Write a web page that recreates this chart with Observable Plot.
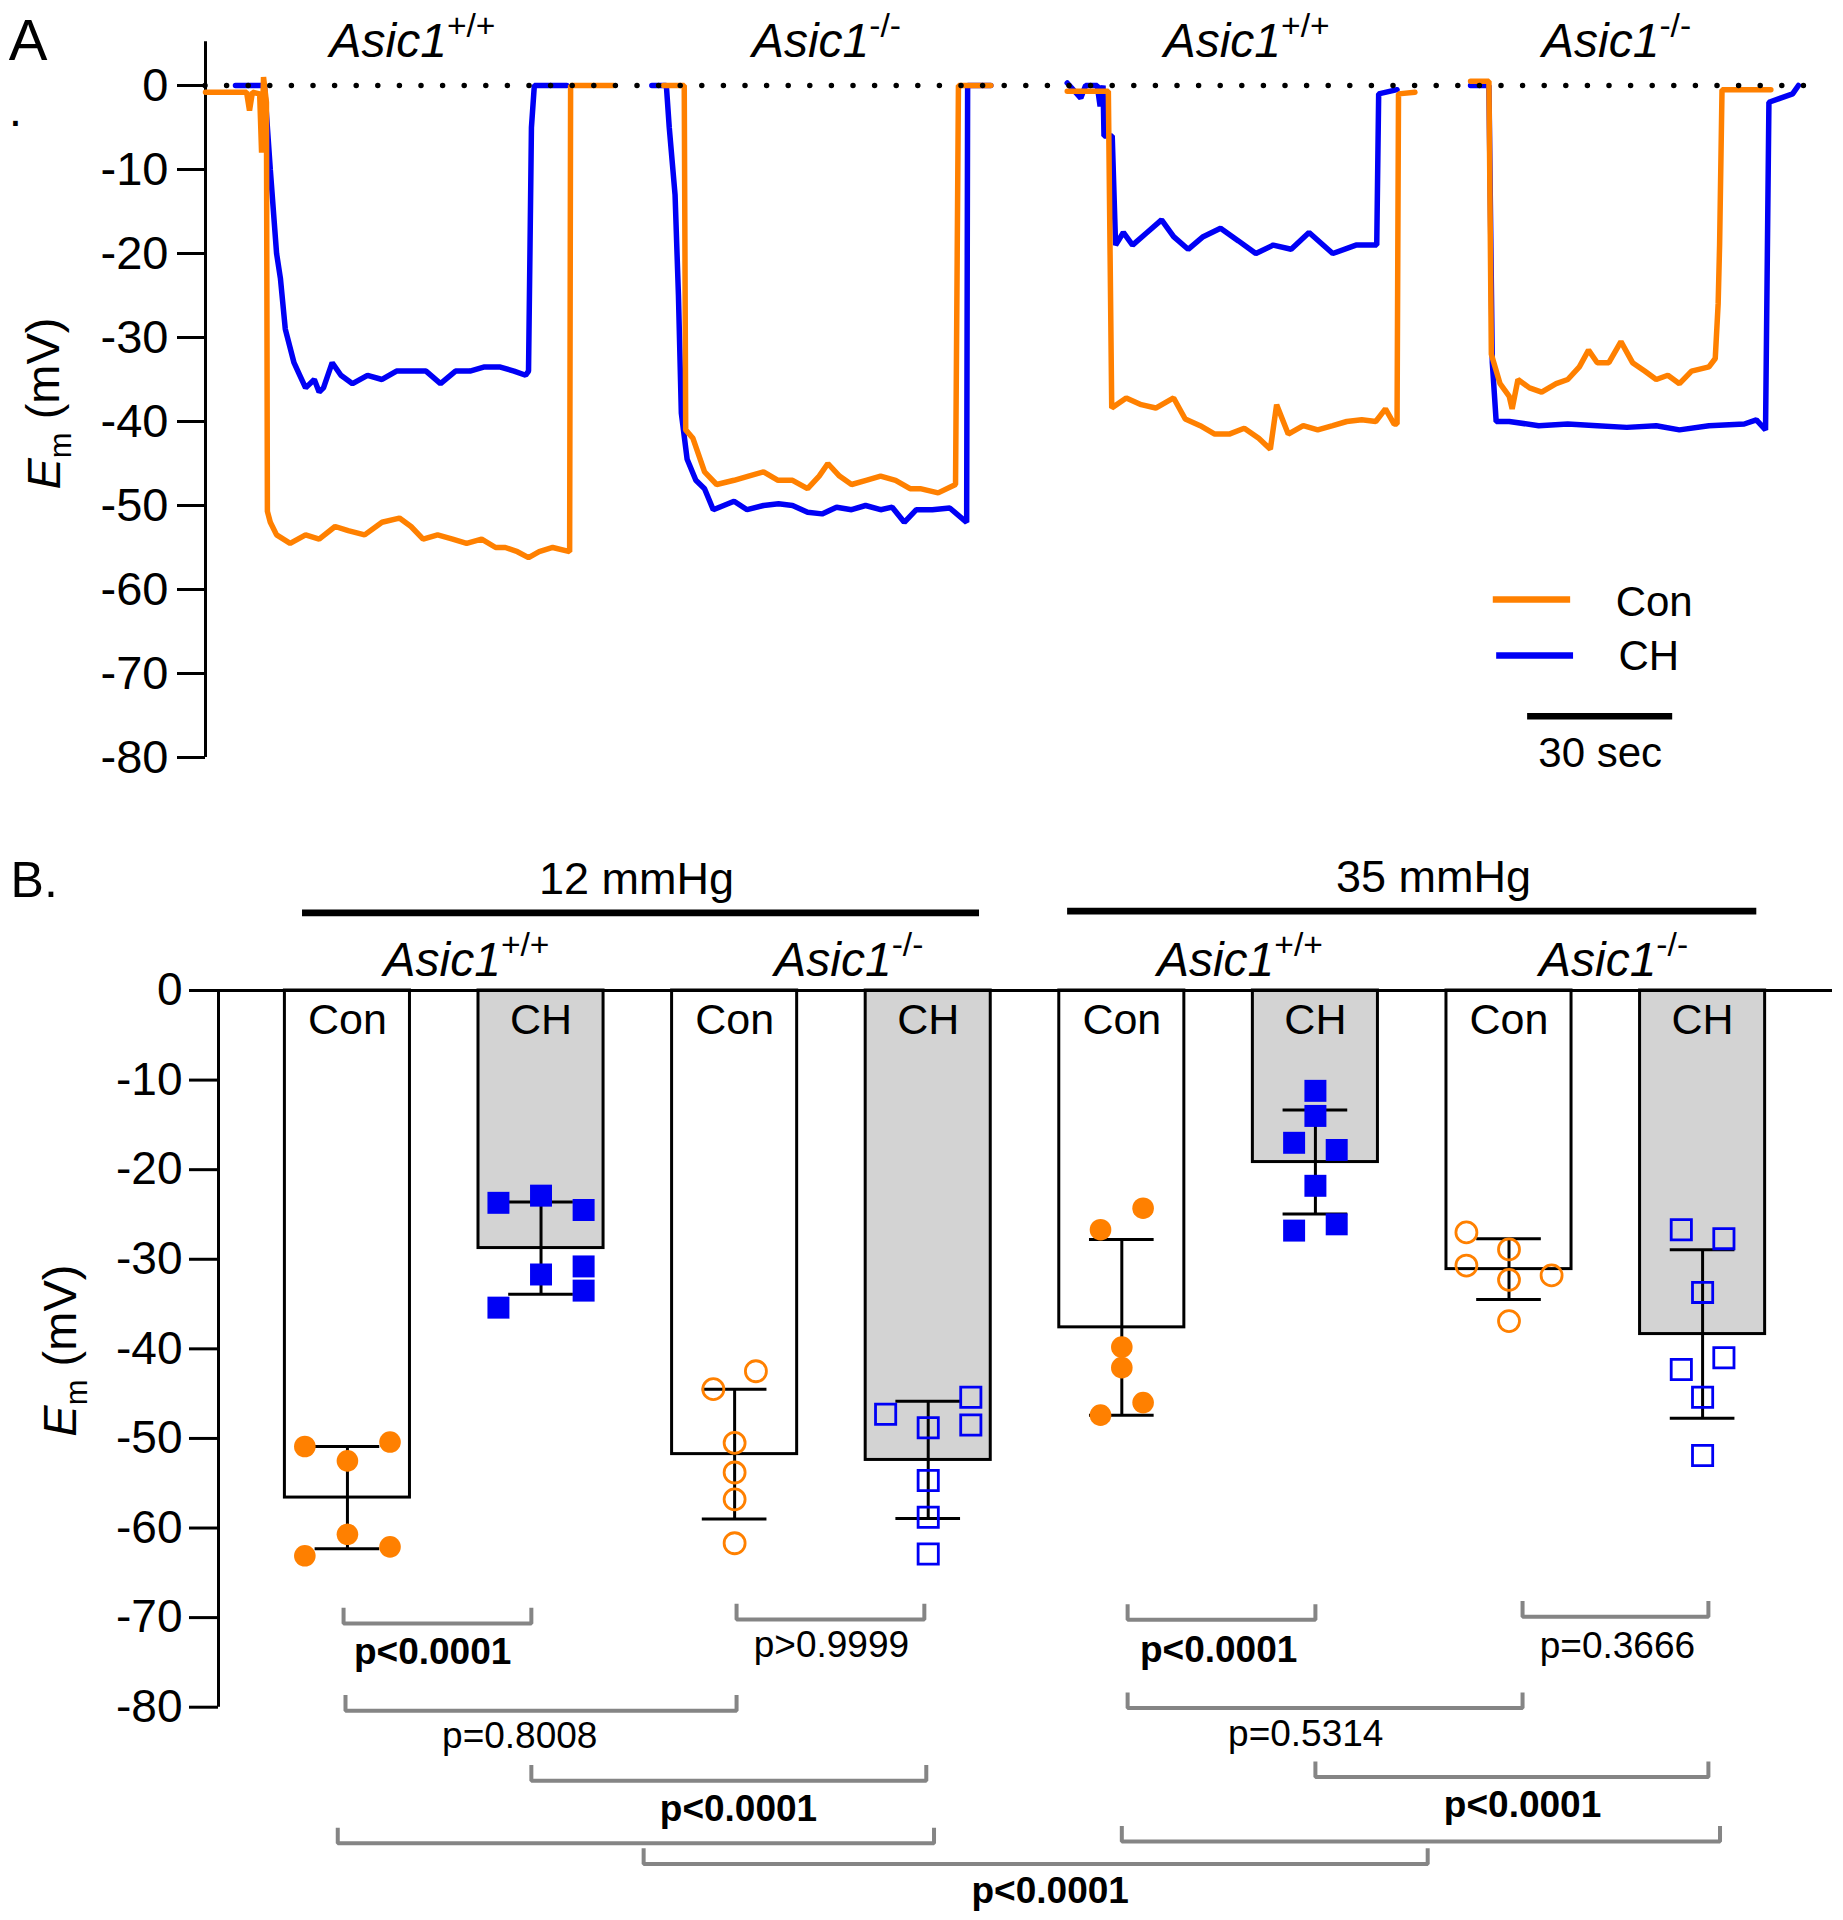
<!DOCTYPE html>
<html><head><meta charset="utf-8">
<script src="https://cdn.jsdelivr.net/npm/d3@7"></script>
<script src="https://cdn.jsdelivr.net/npm/@observablehq/plot@0.6"></script>
<style>html,body{margin:0;padding:0;background:#fff;overflow:hidden;} svg{display:block;max-width:none !important;}</style>
</head><body>
<div id="chart"></div>
<script>
// ---------------- DATA ----------------
// Panel A: membrane potential traces, [time (s), Em (mV)]
const wtCon12 = [[0,-0.8],[8.5,-0.8],[9.1,-3],[9.7,-0.8],[11.2,-1],[11.6,-8],[12,1],[12.6,-2],[12.8,-50.7],[13.4,-52],[14.7,-53.5],[17.5,-54.5],[20.7,-53.5],[23.5,-54],[26.8,-52.5],[29.5,-53],[32.9,-53.5],[36.5,-52],[40.1,-51.5],[42.5,-52.5],[45,-54],[48,-53.5],[51.1,-54],[54,-54.5],[57.1,-54],[60,-55],[62,-55],[64.5,-55.5],[66.8,-56.2],[69,-55.5],[71.8,-55],[75.3,-55.5],[75.5,0],[84.4,0]];
const wtCH12 = [[6.2,0],[12.2,0],[13.4,-10],[14.7,-20],[15.5,-23],[16.5,-29],[18.3,-33],[19.5,-34.5],[20.7,-36],[22.5,-35],[23.5,-36.5],[24.4,-36],[26.2,-33],[28,-34.5],[30.4,-35.5],[33.5,-34.5],[36.5,-35],[39.5,-34],[42.6,-34],[45.6,-34],[48.6,-35.5],[51.7,-34],[54.7,-34],[57.7,-33.5],[60.8,-33.5],[63.8,-34],[66.2,-34.5],[66.8,-34],[67.4,-5],[68,0],[74.7,0]];
const koCon12 = [[94.7,0],[99,0],[99.3,-41],[100.8,-42],[102,-44],[103.2,-46],[105.7,-47.5],[109.3,-47],[112.3,-46.5],[115.4,-46],[118.4,-47],[121.4,-47],[124.5,-48],[126.9,-46.5],[128.7,-45],[131.1,-46.5],[133.6,-47.5],[136.6,-47],[139.6,-46.5],[142.7,-47],[145.7,-48],[147.8,-48],[151.5,-48.5],[155.1,-47.5],[155.7,0],[162.4,0]];
const koCH12 = [[92.3,0],[95.3,0],[95.9,-5],[97.1,-13],[97.8,-25],[98.4,-39],[99.6,-44.5],[101.4,-47],[103.2,-48],[105,-50.5],[109.3,-49.5],[112,-50.5],[115.4,-50],[118.5,-49.8],[121.4,-50],[124.5,-50.8],[127.5,-51],[130.5,-50.2],[133.6,-50.5],[136.5,-50],[139.6,-50.5],[142,-50.2],[144.5,-52],[147,-50.5],[150.3,-50.5],[153.9,-50.3],[157.4,-52],[157.6,0],[162.4,0]];
const wtCon35 = [[178.2,-0.7],[186.7,-0.7],[187.4,-38.4],[190.4,-37.2],[193.5,-38],[196.5,-38.4],[200.2,-37.2],[202.6,-39.7],[205.7,-40.5],[208.7,-41.5],[211.7,-41.5],[214.8,-40.8],[217.8,-42],[220.2,-43.3],[221.5,-38],[223.9,-41.5],[227,-40.5],[230,-41],[233.1,-40.5],[236,-40],[239.1,-39.8],[242,-40],[244,-38.5],[245.8,-40.3],[246.4,-40.3],[246.7,-1],[250.1,-0.8]];
const wtCH35 = [[178.2,0.3],[181,-1.5],[182,0],[184.4,0],[185,-2.5],[185.6,0],[185.8,-6],[187.5,-6],[188.2,-19],[189.8,-17.5],[191.7,-19],[194.7,-17.5],[197.7,-16],[200.2,-18],[203.2,-19.5],[206.3,-18],[209.9,-17],[213.6,-18.5],[217.2,-20],[220.8,-19],[224.5,-19.5],[228.2,-17.5],[233.1,-20],[237.9,-19],[242.2,-19],[242.6,-1],[246.4,-0.5]];
const koCon35 = [[261.6,0.5],[265.4,0.5],[265.9,-32],[267.7,-35.5],[269.6,-37],[270.2,-38.5],[271.4,-35],[273.8,-36],[276.3,-36.5],[279.3,-35.5],[281.7,-35],[284.1,-33.5],[286,-31.5],[287.8,-33],[290.2,-33],[292.7,-30.5],[295.1,-33],[297.6,-34],[300,-35],[302.4,-34.5],[304.8,-35.5],[307.3,-34],[310.9,-33.5],[312.2,-32.5],[312.8,-26],[313.1,-19],[313.6,-0.5],[323.7,-0.5]];
const koCH35 = [[261.6,0],[265.4,0],[266.1,-33],[266.9,-40],[269.6,-40],[275.7,-40.5],[281.7,-40.3],[287.8,-40.5],[293.9,-40.7],[300,-40.5],[304.8,-41],[310.9,-40.5],[318.2,-40.3],[320.7,-39.8],[322.6,-41],[323.3,-2],[325.7,-1.5],[328.2,-1],[329.4,0]];
const recordingGenotype = ["@wt","@ko","@wt","@ko"];
const recordingLabelT = [42.8, 128.4, 215.3, 291.8];
const ticksA = [0,-10,-20,-30,-40,-50,-60,-70,-80];
const scaleBarSeconds = 30;

// Panel B: group means, SD and individual cells
const barCondition = ["Con","CH","Con","CH","Con","CH","Con","CH"];
const barGenotype = ["wt","wt","ko","ko","wt","wt","ko","ko"];
const barMean = [-56.6,-28.75,-51.75,-52.4,-37.6,-19.15,-31.1,-38.35];
const barSD = [5.7,5.15,7.25,6.55,9.8,5.8,3.4,9.4];
const cellValues = [
  [-50.9,-52.5,-50.4,-63.1,-60.7,-62.1],
  [-23.7,-22.9,-24.5,-31.7,-30.8,-33.5,-35.4],
  [-44.5,-42.5,-50.5,-53.8,-56.8,-61.7],
  [-47.3,-48.8,-54.7,-58.8,-62.9,-45.4,-48.5],
  [-26.7,-24.3,-39.8,-42.1,-46.0,-47.4],
  [-11.2,-14.0,-17.0,-17.8,-21.8,-26.8,-26.1],
  [-27.0,-28.9,-30.7,-32.3,-31.8,-36.9],
  [-26.7,-27.7,-33.7,-41.0,-42.3,-45.4,-51.9]
];
const cellColumns = [
  [-2,0,2,-2,0,2],
  [-2,0,2,0,2,2,-2],
  [-1,1,0,0,0,0],
  [-2,0,0,0,0,2,2],
  [-1,1,0,0,1,-1],
  [0,0,-1,1,0,-1,1],
  [-2,0,-2,0,2,0],
  [-1,1,0,1,-1,0,0]
];
const genotypeLabels = ["@wt","@ko","@wt","@ko"];
const genotypeLabelX = [0.615,2.59,4.61,6.54];
const pressureLabels = ["12 mmHg","35 mmHg"];
const pressureLabelX = [1.493,5.61];
const pressureFrom = [-0.232,3.72];
const pressureTo = [3.265,7.28];
const ticksB = [0,-10,-20,-30,-40,-50,-60,-70,-80];
// comparisons (bracket ends in bar-position units)
const cmpFrom = [-0.02,2.01,4.03,6.07,-0.01,4.03,0.95,5.0,-0.05,4.0,1.53];
const cmpTo = [0.95,2.98,5.0,7.03,2.01,6.07,2.99,7.03,3.03,7.09,5.58];
const cmpLevel = [-70.65,-70.2,-70.25,-69.9,-80.4,-80.1,-88.2,-87.8,-95.2,-95.0,-97.5];
const cmpP = ["p<0.0001","p>0.9999","p<0.0001","p=0.3666","p=0.8008","p=0.5314","p<0.0001","p<0.0001","","","p<0.0001"];
const cmpLabelX = [0.44,2.5,4.5,6.56,0.89,4.95,2.02,6.07,null,null,3.63];
const cmpLabelY = [-75.15,-74.4,-74.97,-74.5,-84.5,-84.3,-92.65,-92.3,null,null,-101.8];

// ---------------- STYLE ----------------
const ORANGE = "#FF8000", BLUE = "#0000F5", BARGRAY = "#D3D3D3", BRACKET = "#858585";
const FONT = "'Liberation Sans', Arial, Helvetica, sans-serif";

const rich = {
  "@wt": [["Asic1","i"],["+/+","sup"]],
  "@ko": [["Asic1","i"],["-/-","sup"]],
  "@em": [["E","i"],["m","sub"],[" (mV)",""]]
};
function richify(svg){
  svg.querySelectorAll("text").forEach(el => {
    const spec = rich[el.textContent];
    if (!spec) return;
    el.textContent = "";
    let prevSub = false;
    for (const [t, kind] of spec) {
      const ts = document.createElementNS("http://www.w3.org/2000/svg","tspan");
      ts.textContent = t;
      if (kind === "i") ts.setAttribute("font-style","italic");
      if (kind === "sup") { ts.setAttribute("font-size","0.7em"); ts.setAttribute("dy","-0.58em"); }
      if (kind === "sub") { ts.setAttribute("font-size","0.66em"); ts.setAttribute("dy","0.36em"); }
      else if (prevSub) ts.setAttribute("dy","-0.24em");
      prevSub = kind === "sub";
      el.appendChild(ts);
    }
  });
}

// ---------------- PANEL A ----------------
const traceDefs = [
  {cond:"CH", seg:"wt12", pts:wtCH12}, {cond:"CH", seg:"ko12", pts:koCH12},
  {cond:"CH", seg:"wt35", pts:wtCH35}, {cond:"CH", seg:"ko35", pts:koCH35},
  {cond:"Con", seg:"wt12", pts:wtCon12}, {cond:"Con", seg:"ko12", pts:koCon12},
  {cond:"Con", seg:"wt35", pts:wtCon35}, {cond:"Con", seg:"ko35", pts:koCon35}
];
const traceRows = traceDefs.flatMap(d => d.pts.map(([t,v]) => ({cond:d.cond, seg:d.seg, t, v})));
const recLabels = recordingGenotype.map((k,i) => ({key:k, t:recordingLabelT[i]}));

const plotA = Plot.plot({
  width: 1843, height: 810,
  marginLeft: 205, marginRight: 18, marginTop: 41.3, marginBottom: 53,
  x: {domain: [0, 335], axis: null},
  y: {domain: [-80, 5.2]},
  style: {fontFamily: FONT, background: "white"},
  marks: [
    Plot.ruleX([0], {strokeWidth: 3}),
    Plot.axisY({ticks: ticksA, tickSize: 28, tickPadding: 9, fontSize: 47, tickFormat: d => String(d), label: null, strokeWidth: 3}),
    Plot.line(traceRows.filter(d => d.cond === "CH"), {x: "t", y: "v", z: "seg", stroke: BLUE, strokeWidth: 5.5, strokeLinejoin: "miter"}),
    Plot.line(traceRows.filter(d => d.cond === "Con"), {x: "t", y: "v", z: "seg", stroke: ORANGE, strokeWidth: 5.5, strokeLinejoin: "miter"}),
    Plot.ruleY([0], {x1: 0, x2: 335, strokeDasharray: "0 21.6", strokeLinecap: "round", strokeWidth: 5.5}),
    Plot.text(recLabels, {x: "t", y: 3.45, text: "key", fontSize: 48, lineAnchor: "bottom"}),
    Plot.text(["A"], {x: -40.7, y: 2.98, text: d => d, fontSize: 58, textAnchor: "start", lineAnchor: "bottom"}),
    Plot.text(["."], {x: -40.7, y: -4.82, text: d => d, fontSize: 48, textAnchor: "start", lineAnchor: "bottom"}),
    Plot.text(["@em"], {x: -33.3, y: -37.86, text: d => d, fontSize: 47, rotate: -90}),
    // legend
    Plot.ruleY([{c:"Con", y:-61.19, x1:266.3, x2:282.3}], {y: "y", x1: "x1", x2: "x2", stroke: ORANGE, strokeWidth: 6.5}),
    Plot.ruleY([{c:"CH", y:-67.86, x1:267.0, x2:282.9}], {y: "y", x1: "x1", x2: "x2", stroke: BLUE, strokeWidth: 6.5}),
    Plot.text([{c:"Con", x:291.6, y:-63.1}, {c:"CH", x:292.2, y:-69.64}], {x: "x", y: "y", text: "c", fontSize: 42, textAnchor: "start", lineAnchor: "bottom"}),
    // scale bar
    Plot.ruleY([-75.08], {x1: 273.4, x2: 273.4 + scaleBarSeconds, strokeWidth: 6.5}),
    Plot.text([`${scaleBarSeconds} sec`], {x: 273.4 + scaleBarSeconds / 2, y: -81.19, text: d => d, fontSize: 42, lineAnchor: "bottom"})
  ]
});

// ---------------- PANEL B ----------------
const bars = barMean.map((m,i) => ({i, cond: barCondition[i], geno: barGenotype[i], mean: m, sd: barSD[i]}));
const cells = cellValues.flatMap((vals, g) => vals.map((v, k) => ({g, v, col: cellColumns[g][k], cond: barCondition[g], geno: barGenotype[g]})));
const caps = bars.flatMap(b => [{i: b.i, y: b.mean + b.sd}, {i: b.i, y: b.mean - b.sd}]);
const cmps = cmpFrom.map((a,k) => ({k, a, b: cmpTo[k], y: cmpLevel[k], p: cmpP[k], lx: cmpLabelX[k], ly: cmpLabelY[k]}));
const bracketPts = cmps.flatMap(c => [
  {k: c.k, x: c.a, y: c.y + 1.75}, {k: c.k, x: c.a, y: c.y},
  {k: c.k, x: c.b, y: c.y}, {k: c.k, x: c.b, y: c.y + 1.75}
]);
const cmpLabels = cmps.filter(c => c.p);
const HALF = 0.323, COL = 0.11, CAP = 0.167;

const plotB = Plot.plot({
  width: 1843, height: 1110,
  marginLeft: 218, marginRight: 11, marginTop: 180, marginBottom: 213.3,
  x: {domain: [-0.666, 7.671], axis: null},
  y: {domain: [-80, 0]},
  style: {fontFamily: FONT, background: "white"},
  marks: [
    Plot.rect(bars.filter(b => b.cond === "Con"), {x1: d => d.i - HALF, x2: d => d.i + HALF, y1: 0, y2: "mean", fill: "white", stroke: "black", strokeWidth: 3}),
    Plot.rect(bars.filter(b => b.cond === "CH"), {x1: d => d.i - HALF, x2: d => d.i + HALF, y1: 0, y2: "mean", fill: BARGRAY, stroke: "black", strokeWidth: 3}),
    Plot.ruleY([0], {strokeWidth: 3}),
    Plot.ruleX([-0.666], {y1: -80, y2: 0, strokeWidth: 3}),
    Plot.axisY({ticks: ticksB, tickSize: 29, tickPadding: 7, fontSize: 46, tickFormat: d => String(d), label: null, strokeWidth: 3}),
    Plot.text(bars, {x: "i", y: -4.8, text: "cond", fontSize: 43, lineAnchor: "bottom"}),
    // error bars
    Plot.ruleX(bars, {x: "i", y1: d => d.mean - d.sd, y2: d => d.mean + d.sd, strokeWidth: 3}),
    Plot.ruleY(caps, {y: "y", x1: d => d.i - CAP, x2: d => d.i + CAP, strokeWidth: 3}),
    // individual cells
    Plot.dot(cells.filter(d => d.cond === "Con" && d.geno === "wt"), {x: d => d.g + d.col * COL, y: "v", r: 10.8, fill: ORANGE, stroke: "none"}),
    Plot.dot(cells.filter(d => d.cond === "Con" && d.geno === "ko"), {x: d => d.g + d.col * COL, y: "v", r: 10.5, fill: "none", stroke: ORANGE, strokeWidth: 2.8}),
    Plot.dot(cells.filter(d => d.cond === "CH" && d.geno === "wt"), {x: d => d.g + d.col * COL, y: "v", r: 12.4, symbol: "square", fill: BLUE, stroke: "none"}),
    Plot.dot(cells.filter(d => d.cond === "CH" && d.geno === "ko"), {x: d => d.g + d.col * COL, y: "v", r: 11.4, symbol: "square", fill: "none", stroke: BLUE, strokeWidth: 2.8}),
    // comparisons
    Plot.line(bracketPts, {x: "x", y: "y", z: "k", stroke: BRACKET, strokeWidth: 4, strokeLinejoin: "miter", strokeLinecap: "butt"}),
    Plot.text(cmpLabels.filter(c => c.p === "p<0.0001"), {x: "lx", y: "ly", text: "p", fontSize: 37, lineAnchor: "bottom", fontWeight: "bold"}),
    Plot.text(cmpLabels.filter(c => c.p !== "p<0.0001"), {x: "lx", y: "ly", text: "p", fontSize: 37, lineAnchor: "bottom"}),
    // headers
    Plot.text(genotypeLabels.map((k,i) => ({k, x: genotypeLabelX[i]})), {x: "x", y: 1.67, text: "k", fontSize: 48, lineAnchor: "bottom"}),
    Plot.text(pressureLabels.map((t,i) => ({t, x: pressureLabelX[i], y: i ? 11.0 : 10.75})), {x: "x", y: "y", text: "t", fontSize: 45, lineAnchor: "bottom"}),
    Plot.ruleY(pressureLabels.map((t,i) => ({x1: pressureFrom[i], x2: pressureTo[i], y: i ? 8.86 : 8.66})), {y: "y", x1: "x1", x2: "x2", strokeWidth: 6.7}),
    Plot.text(["B."], {x: -1.74, y: 10.49, text: d => d, fontSize: 50, textAnchor: "start", lineAnchor: "bottom"}),
    Plot.text(["@em"], {x: -1.48, y: -40.2, text: d => d, fontSize: 47, rotate: -90})
  ]
});

const root = document.getElementById("chart");
root.appendChild(plotA);
root.appendChild(plotB);
richify(plotA);
richify(plotB);
</script>
</body></html>
